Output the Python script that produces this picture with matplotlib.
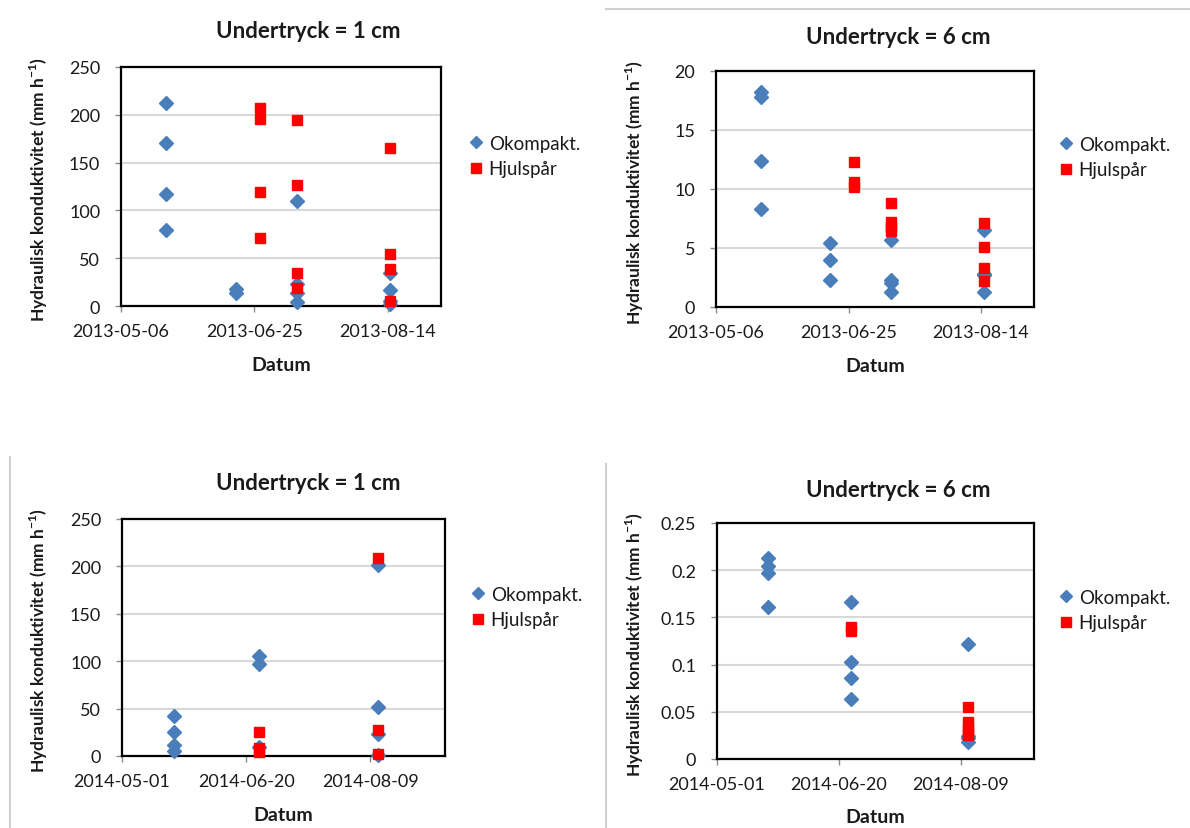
import matplotlib.pyplot as plt
import matplotlib.dates as mdates
from matplotlib.lines import Line2D
from matplotlib.ticker import FuncFormatter
import pandas as pd

plt.rcParams['font.family'] = ['Lato', 'DejaVu Sans']
plt.rcParams['mathtext.fontset'] = 'custom'
plt.rcParams['mathtext.rm'] = 'Lato'
plt.rcParams['mathtext.bf'] = 'Lato:bold'

W, H = 1190, 829
BLUE = '#4a7ebb'
RED = '#ff0000'
TXT = '#1a1a1a'

SERIES = ['Okompakt.', 'Hjulspår']
TITLES = ['Undertryck = 1 cm', 'Undertryck = 6 cm']
YLABEL = r'Hydraulisk konduktivitet (mm h$^{\mathbf{-1}}$)'
XLABEL = 'Datum'

# --- 2013 ---
ticks_2013 = ['2013-05-06', '2013-06-25', '2013-08-14']
xlim_2013 = ['2013-05-06', '2013-09-03']

okomp_2013_1cm_dates = ['2013-05-23'] * 4 + ['2013-06-18'] * 2 + ['2013-07-11'] * 4 + ['2013-08-15'] * 4
okomp_2013_1cm = [212, 170, 117, 80, 18, 14, 110, 23, 14, 4, 34, 17, 5, 2]
hjul_2013_1cm_dates = ['2013-06-27'] * 4 + ['2013-07-11'] * 4 + ['2013-08-15'] * 4
hjul_2013_1cm = [207, 196, 119, 71, 195, 127, 35, 19, 165, 54, 39, 5]

okomp_2013_6cm_dates = ['2013-05-23'] * 4 + ['2013-06-18'] * 3 + ['2013-07-11'] * 4 + ['2013-08-15'] * 4
okomp_2013_6cm = [18.2, 17.8, 12.4, 8.3, 5.4, 4.0, 2.3, 5.7, 2.3, 2.0, 1.3, 6.5, 2.8, 2.7, 1.3]
hjul_2013_6cm_dates = ['2013-06-27'] * 3 + ['2013-07-11'] * 4 + ['2013-08-15'] * 4
hjul_2013_6cm = [12.3, 10.6, 10.2, 8.8, 7.2, 6.8, 6.4, 7.1, 5.1, 3.3, 2.2]

# --- 2014 ---
ticks_2014 = ['2014-05-01', '2014-06-20', '2014-08-09']
xlim_2014 = ['2014-05-01', '2014-09-08']

okomp_2014_1cm_dates = ['2014-05-22'] * 4 + ['2014-06-25'] * 3 + ['2014-08-12'] * 4
okomp_2014_1cm = [42, 25, 12, 5, 105, 97, 9, 201, 52, 23, 1]
hjul_2014_1cm_dates = ['2014-06-25'] * 3 + ['2014-08-12'] * 3
hjul_2014_1cm = [25, 8, 4, 209, 27, 2]

okomp_2014_6cm_dates = ['2014-05-22'] * 4 + ['2014-06-25'] * 4 + ['2014-08-12'] * 4
okomp_2014_6cm = [0.213, 0.204, 0.197, 0.161, 0.166, 0.103, 0.086, 0.064, 0.122, 0.024, 0.022, 0.018]
hjul_2014_6cm_dates = ['2014-06-25'] * 2 + ['2014-08-12'] * 5
hjul_2014_6cm = [0.140, 0.136, 0.055, 0.039, 0.034, 0.029, 0.025]


def px(x, y):
    """pixel position -> figure fraction"""
    return x / W, 1 - y / H


fig = plt.figure(figsize=(W / 100, H / 100), dpi=100)
fig.patch.set_facecolor('white')


def panel(box, title, title_xy, leg_xy, ylab_x, xlab_y,
          bd, bv, rd, rv, xlim, xticks, ymax, ystep):
    l, t, r, b = box
    ax = fig.add_axes([l / W, 1 - b / H, (r - l) / W, (b - t) / H])
    ax.plot(pd.to_datetime(bd), bv, ls='none', marker='D', ms=7.3, color=BLUE,
            mec=BLUE, label=SERIES[0], clip_on=False, zorder=3)
    ax.plot(pd.to_datetime(rd), rv, ls='none', marker='s', ms=7.5, color=RED,
            mec=RED, label=SERIES[1], clip_on=False, zorder=4)

    ax.set_xlim(pd.to_datetime(xlim))
    ax.set_xticks(pd.to_datetime(xticks))
    ax.xaxis.set_major_formatter(mdates.DateFormatter('%Y-%m-%d'))
    ax.set_ylim(0, ymax)
    ax.set_yticks([i * ystep for i in range(int(round(ymax / ystep)) + 1)])
    ax.yaxis.set_major_formatter(FuncFormatter(lambda v, p: f'{v:g}'))

    ax.yaxis.grid(True, color='#d9d9d9', lw=1.5)
    ax.set_axisbelow(True)
    for s in ax.spines.values():
        s.set_linewidth(1.6)
        s.set_color('black')
    ax.tick_params(direction='out', length=4, width=1, color='#8c8c8c',
                   labelsize=13, labelcolor=TXT)
    ax.tick_params(axis='y', pad=11)
    ax.tick_params(axis='x', pad=8)

    ax.set_ylabel(YLABEL, fontsize=12.5, fontweight='bold', color=TXT)
    ax.yaxis.set_label_coords(*px(ylab_x, (t + b) / 2 + 2), transform=fig.transFigure)
    ax.set_xlabel(XLABEL, fontsize=14, fontweight='bold', color=TXT)
    ax.xaxis.set_label_coords(*px((l + r) / 2, xlab_y), transform=fig.transFigure)

    fig.text(*px(*title_xy), title, ha='center', va='center', fontsize=16,
             fontweight='bold', color=TXT)

    leg = ax.legend(loc='upper left', bbox_to_anchor=px(*leg_xy),
                    bbox_transform=fig.transFigure, frameon=False, fontsize=13.5,
                    handlelength=0.8, handletextpad=0.3, labelspacing=0.45,
                    borderpad=0, borderaxespad=0)
    for txt in leg.get_texts():
        txt.set_color(TXT)
    leg.legend_handles[0].set_markersize(6)
    leg.legend_handles[1].set_markersize(7)
    return ax


panel((121, 68, 441, 307), TITLES[0], (308, 31), (468, 136), 50, 357,
      okomp_2013_1cm_dates, okomp_2013_1cm, hjul_2013_1cm_dates, hjul_2013_1cm,
      xlim_2013, ticks_2013, 250, 50)
panel((716, 72, 1034, 308), TITLES[1], (898, 38), (1058, 137), 646, 358,
      okomp_2013_6cm_dates, okomp_2013_6cm, hjul_2013_6cm_dates, hjul_2013_6cm,
      xlim_2013, ticks_2013, 20, 5)
panel((122, 520, 445, 757), TITLES[0], (308, 484), (470, 587), 50, 807,
      okomp_2014_1cm_dates, okomp_2014_1cm, hjul_2014_1cm_dates, hjul_2014_1cm,
      xlim_2014, ticks_2014, 250, 50)
panel((717, 524, 1034, 760), TITLES[1], (898, 491), (1058, 590), 646, 809,
      okomp_2014_6cm_dates, okomp_2014_6cm, hjul_2014_6cm_dates, hjul_2014_6cm,
      xlim_2014, ticks_2014, 0.25, 0.05)

# light chart-area borders from the original sheet
for (x0, y0), (x1, y1) in [((606, 10), (1190, 10)), ((10, 458), (10, 829)), ((606, 465), (606, 829))]:
    fig.add_artist(Line2D([x0 / W, x1 / W], [1 - y0 / H, 1 - y1 / H],
                          transform=fig.transFigure, color='#d0d0d0', lw=1.5))

fig.savefig('out.png', dpi=100)
